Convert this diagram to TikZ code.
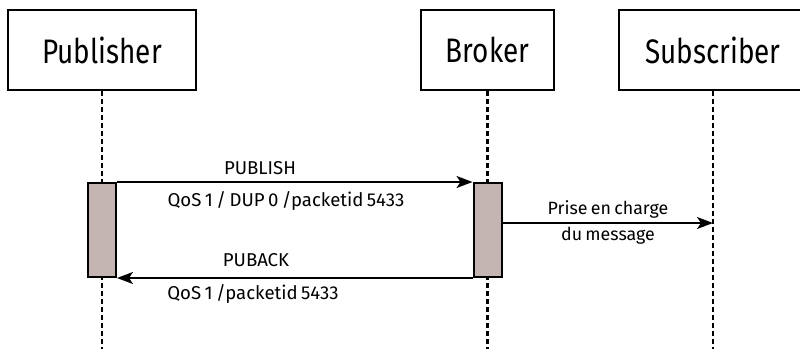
\documentclass[tikz,border=0pt]{standalone}
\usepackage{fontspec}
\setmainfont{Fira Sans}[FakeStretch=0.82]
\newfontfamily\lblfont{Fira Sans}[WordSpace=0.7]
\usetikzlibrary{arrows.meta}
\definecolor{actfill}{HTML}{C4B4B2}
\tikzset{
  actor/.style={draw=black, line width=2pt, fill=white, inner sep=0pt, font=\fontsize{34}{36}\selectfont},
  lifeline/.style={line width=2.4pt, dash pattern=on 4.5pt off 3.5pt},
  actbox/.style={draw=black, line width=2pt, fill=actfill, inner sep=0pt, minimum width=28pt, minimum height=94pt},
  msg/.style={line width=2pt, -{Stealth[length=16pt,width=12pt,inset=4pt]}},
  lbl/.style={inner sep=0pt, font=\lblfont\fontsize{18.6}{20}\selectfont},
}
\begin{document}
\begin{tikzpicture}[x=1pt,y=-1pt]
\useasboundingbox (0,0) rectangle (800,348);
\clip (0,0) rectangle (800,348);
% actors
\node[actor, minimum width=188pt, minimum height=80pt] (pub) at (102,50) {Publisher};
\node[actor, minimum width=133pt, minimum height=80pt] (bro) at (487.5,50) {Broker};
\node[actor, minimum width=188pt, minimum height=80pt] (sub) at (713,50) {Subscriber};
% lifeline ends
\coordinate (pubend) at (102,350);
\coordinate (broend) at (487.5,350);
\coordinate (subend) at (713,350);
\draw[lifeline] (pub.south) -- (pubend);
\draw[lifeline] (bro.south) -- (broend);
\draw[lifeline] (sub.south) -- (subend);
% activation boxes
\node[actbox] (apub) at (102,230) {};
\node[actbox] (abro) at (487.5,230) {};
\coordinate (subhit) at (713,223);
% messages
\draw[msg] (apub.north east) -- (abro.north west);
\draw[msg] (abro.south west) -- (apub.south east);
\draw[msg] (abro.east |- subhit) -- (subhit);
% labels
\node[lbl] (l1) at (260,168) {PUBLISH};
\node[lbl] (l2) at (286,201) {QoS 1 / DUP 0 /packetid 5433};
\node[lbl] (l3) at (256,260) {PUBACK};
\node[lbl] (l4) at (253,294) {QoS 1 /packetid 5433};
\node[lbl, align=center, font=\lblfont\fontsize{17.8}{26}\selectfont] (l5) at (608,222) {Prise en charge\\du message};
\end{tikzpicture}
\end{document}
